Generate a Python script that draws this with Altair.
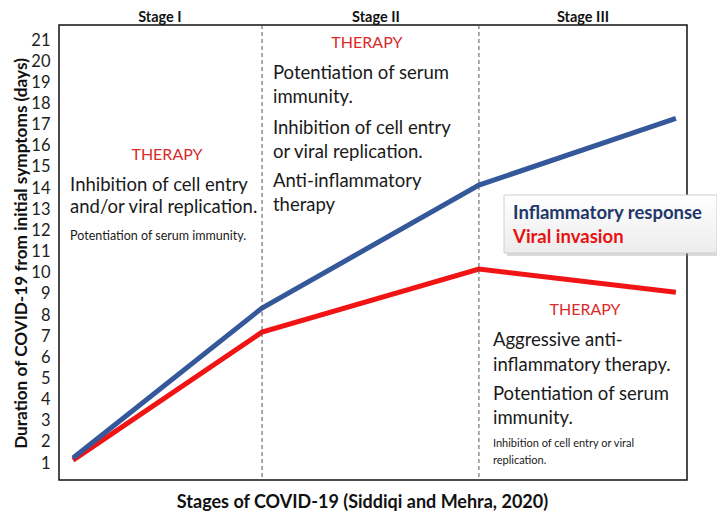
import altair as alt
import pandas as pd

# ---- data ----
stage_pos = [0.067, 0.970, 2.006, 2.947]          # x positions (stage axis units, 0..3)
inflammatory = [1.24, 8.33, 14.14, 17.3]          # days
viral = [1.14, 7.19, 10.17, 9.08]                 # days
boundaries = [0.970, 2.006]
y_ticks = list(range(1, 22))

stage_names = ["Stage I", "Stage II", "Stage III"]
stage_centers = [0.482, 1.514, 2.503]
stage_label_y = [21.83, 21.83, 21.83]

therapy_x = [0.516, 1.471, 2.513]
therapy_y = [15.56, 20.86, 8.23]

s1_text = ["Inhibition of cell entry", "and/or viral replication."]
s1_y = [14.14, 13.10]
s1_small = ["Potentiation of serum immunity."]
s1_small_y = [11.73]
s1_x = 0.053

s2_text = ["Potentiation of serum", "immunity.", "Inhibition of cell entry",
           "or viral replication.", "Anti-inflammatory", "therapy"]
s2_y = [19.44, 18.30, 16.84, 15.70, 14.33, 13.20]
s2_x = 1.022

s3_text = ["Aggressive anti-", "inflammatory therapy.", "Potentiation of serum", "immunity."]
s3_y = [6.82, 5.63, 4.26, 3.13]
s3_small = ["Inhibition of cell entry or viral", "replication."]
s3_small_y = [1.90, 1.09]
s3_x = 2.073

legend_names = ["Inflammatory response", "Viral invasion"]
legend_y = [12.82, 11.69]
legend_x = 2.169

BLUE = "#35589a"
RED = "#f01414"
FONT = "Lato"

X_DOM = [0, 3]
Y_DOM = [0.2, 21.71]
xs = alt.Scale(domain=X_DOM)
ys = alt.Scale(domain=Y_DOM)

lines_df = pd.DataFrame({
    "x": stage_pos * 2,
    "y": inflammatory + viral,
    "series": [legend_names[0]] * 4 + [legend_names[1]] * 4,
})

x_axis = alt.Axis(labels=False, ticks=False, domain=False, grid=False,
                  title="Stages of COVID-19 (Siddiqi and Mehra, 2020)",
                  titleFont=FONT, titleFontSize=18, titleFontWeight="bold",
                  titleColor="#111", titleX=303, titleY=22,
                  titleBaseline="middle", titleAlign="center")
y_axis = alt.Axis(values=y_ticks, ticks=False, domain=False, grid=False,
                  labelFont=FONT, labelFontSize=16.5, labelColor="#222",
                  labelPadding=9, labelOverlap=False,
                  title="Duration of COVID-19 from initial symptoms (days)",
                  titleFont=FONT, titleFontSize=17.2, titleFontWeight="bold",
                  titleColor="#111", titleAngle=-90, titleX=-38, titleY=228,
                  titleBaseline="middle", titleAlign="center")


def X():
    return alt.X("x:Q", scale=xs, axis=x_axis)


def Y():
    return alt.Y("y:Q", scale=ys, axis=y_axis)


frame = alt.Chart(pd.DataFrame({"a": [0]})).mark_rect(
    fill="transparent", stroke="#111", strokeWidth=1.5
).encode(x=alt.value(0), x2=alt.value(628), y=alt.value(0), y2=alt.value(455))

rules = alt.Chart(pd.DataFrame({"x": boundaries})).mark_rule(
    color="#555", strokeDash=[4, 3], strokeWidth=1
).encode(x=X())

red_line = alt.Chart(lines_df[lines_df.series == legend_names[1]]).mark_line(
    color=RED, strokeWidth=5).encode(x=X(), y=Y())
blue_line = alt.Chart(lines_df[lines_df.series == legend_names[0]]).mark_line(
    color=BLUE, strokeWidth=5).encode(x=X(), y=Y())


def text_layer(texts, xv, yv, size, color, align="left", weight="normal", baseline="middle"):
    if not isinstance(xv, list):
        xv = [xv] * len(texts)
    df = pd.DataFrame({"t": texts, "x": xv, "y": yv})
    return alt.Chart(df).mark_text(
        font=FONT, fontSize=size, color=color, align=align, baseline=baseline,
        fontWeight=weight
    ).encode(x=X(), y=Y(), text="t:N")


headers = text_layer(stage_names, stage_centers, stage_label_y, 14.5, "#111", "center", "bold",
                     "alphabetic")
therapy = text_layer(["THERAPY"] * 3, therapy_x, therapy_y, 16, "#d92b2b", "center")
s1 = text_layer(s1_text, s1_x, s1_y, 18.5, "#1a1a1a")
s1s = text_layer(s1_small, s1_x, s1_small_y, 12.5, "#1a1a1a")
s2 = text_layer(s2_text, s2_x, s2_y, 18.5, "#1a1a1a")
s3 = text_layer(s3_text, s3_x, s3_y, 18.5, "#1a1a1a")
s3s = text_layer(s3_small, s3_x, s3_small_y, 11, "#1a1a1a")

shadow = alt.Chart(pd.DataFrame({"a": [0]})).mark_rect(
    color="#999", opacity=0.35
).encode(x=alt.value(448), x2=alt.value(661), y=alt.value(173), y2=alt.value(231))
box = alt.Chart(pd.DataFrame({"a": [0]})).mark_rect(
    fill=alt.Gradient(gradient="linear", x1=0, y1=0, x2=0, y2=1,
                      stops=[alt.GradientStop(color="#ffffff", offset=0),
                             alt.GradientStop(color="#ececec", offset=1)]),
    stroke="#cfcfcf", strokeWidth=1
).encode(x=alt.value(445), x2=alt.value(658), y=alt.value(170), y2=alt.value(228))

leg_df = pd.DataFrame({"t": legend_names, "x": [legend_x] * 2, "y": legend_y})
leg_text = alt.Chart(leg_df).mark_text(
    font=FONT, fontSize=18.5, fontWeight="bold", align="left", baseline="middle"
).encode(x=X(), y=Y(), text="t:N",
         color=alt.Color("t:N", scale=alt.Scale(domain=legend_names, range=["#1f3769", "#e81010"]),
                         legend=None))

chart = alt.layer(
    headers, red_line, blue_line, frame, rules, therapy, s1, s1s, s2, s3, s3s,
    shadow, box, leg_text
).properties(
    width=628, height=455,
    autosize=alt.AutoSizeParams(type="none"),
    padding={"left": 51, "top": 17, "right": 30, "bottom": 32},
).configure_view(stroke=None)

chart.save("out.html", embed_options={"renderer": "svg", "actions": False})
